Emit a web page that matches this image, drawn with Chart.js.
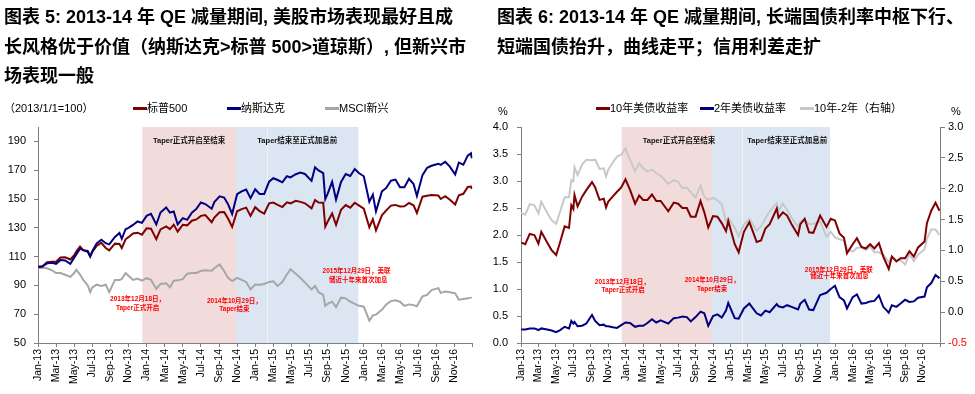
<!DOCTYPE html>
<html>
<head>
<meta charset="utf-8">
<script src="https://cdn.jsdelivr.net/npm/chart.js@4.4.0/dist/chart.umd.min.js"></script>
<style>
  body { margin: 0; background: #fff; width: 975px; height: 394px; overflow: hidden; position: relative;
         font-family: "Liberation Sans", Arial, "Noto Sans CJK SC", sans-serif; }
  canvas { position: absolute; top: 0; }
  .title { position: absolute; top: 3px; font-family: "Liberation Sans Narrow", "Liberation Sans", "Noto Sans CJK SC", sans-serif;
           font-weight: bold; font-size: 18px; line-height: 29.5px; white-space: nowrap; color: #000; z-index: 2; }
  .leg { position: absolute; top: 101px; font-size: 11px; line-height: 14px; white-space: nowrap; color: #000; z-index: 2; }
  .leg i { display: inline-block; width: 14px; height: 3px; vertical-align: middle; margin-top: -2px; }
</style>
</head>
<body>
<div class="title" style="left:4px">图表 5: 2013-14 年 QE 减量期间, 美股市场表现最好且成<br>长风格优于价值（纳斯达克&gt;标普 500&gt;道琼斯）, 但新兴市<br>场表现一般</div>
<div class="title" style="left:497px">图表 6: 2013-14 年 QE 减量期间, 长端国债利率中枢下行、<br>短端国债抬升，曲线走平；信用利差走扩</div>

<div class="leg" style="left:4px">（2013/1/1=100）</div>
<div class="leg" style="left:133px"><i style="background:#7f0000"></i>标普500</div>
<div class="leg" style="left:227px"><i style="background:#000080"></i>纳斯达克</div>
<div class="leg" style="left:325px"><i style="background:#a6a6a6"></i>MSCI新兴</div>

<div class="leg" style="left:498px;top:104px">%</div>
<div class="leg" style="left:596px"><i style="background:#7f0000"></i>10年美债收益率</div>
<div class="leg" style="left:700px"><i style="background:#000080"></i>2年美债收益率</div>
<div class="leg" style="left:800px"><i style="background:#c8c8c8"></i>10年-2年（右轴）</div>
<div class="leg" style="left:951px;top:104px">%</div>

<canvas id="left" width="487" height="394" style="left:0"></canvas>
<canvas id="right" width="488" height="394" style="left:487px"></canvas>

<script>
// ---- data: left chart (index, 2013/1/1 = 100) ----
const leftDates = [
  '2013-01-02','2013-01-16','2013-02-01','2013-02-16','2013-03-01','2013-03-16','2013-04-01','2013-04-18',
  '2013-05-01','2013-05-08','2013-05-21','2013-06-01','2013-06-16','2013-06-24','2013-07-01','2013-07-16',
  '2013-08-01','2013-08-16','2013-08-28','2013-09-16','2013-10-01','2013-10-09','2013-10-22','2013-11-01',
  '2013-11-16','2013-12-01','2013-12-16','2014-01-01','2014-01-16','2014-02-03','2014-02-16','2014-03-06',
  '2014-03-19','2014-04-01','2014-04-14','2014-05-01','2014-05-16','2014-06-01','2014-06-16','2014-07-01',
  '2014-07-16','2014-08-07','2014-08-16','2014-09-03','2014-09-18','2014-10-01','2014-10-15','2014-11-01',
  '2014-11-16','2014-12-01','2014-12-16','2015-01-01','2015-01-16','2015-02-01','2015-02-16','2015-03-01',
  '2015-03-16','2015-04-01','2015-04-16','2015-04-28','2015-05-16','2015-06-01','2015-06-16','2015-07-08',
  '2015-07-20','2015-08-01','2015-08-17','2015-08-24','2015-09-01','2015-09-16','2015-09-29','2015-10-16',
  '2015-11-01','2015-11-16','2015-12-01','2015-12-16','2016-01-01','2016-01-20','2016-02-01','2016-02-11',
  '2016-03-01','2016-03-16','2016-04-01','2016-04-16','2016-05-01','2016-05-16','2016-06-01','2016-06-16',
  '2016-06-27','2016-07-16','2016-08-01','2016-08-16','2016-09-08','2016-09-16','2016-10-01','2016-10-16',
  '2016-11-04','2016-11-16','2016-12-01','2016-12-16','2016-12-27','2016-12-30'
];
const spxValues = [
  102.5,103.2,106.1,106.5,106.4,109.4,109.5,108.0,
  110.9,113.5,117.0,114.4,114.0,110.3,113.2,117.5,
  119.6,116.0,114.3,119.0,118.8,116.0,122.0,123.5,
  126.0,126.6,125.2,129.6,129.4,122.1,128.9,131.0,
  129.1,132.2,127.3,132.1,131.7,134.9,135.8,138.3,
  138.9,133.9,137.1,140.8,141.0,136.4,130.6,141.5,
  143.0,144.0,138.3,144.3,141.6,139.9,147.0,147.5,
  145.9,144.4,147.7,147.0,148.8,148.0,147.0,143.5,
  149.3,147.5,147.4,130.9,134.2,139.9,132.1,142.5,
  145.8,144.0,147.4,145.4,143.3,130.4,136.0,128.2,
  138.7,142.1,145.4,145.9,144.8,144.9,147.2,145.6,
  140.3,151.6,152.2,152.7,152.5,150.0,152.0,149.6,
  146.2,152.6,153.6,158.3,158.6,157.0
];
const nasdaqValues = [
  103.1,103.2,105.3,105.7,105.0,107.6,107.3,104.9,
  109.3,111.5,115.5,114.5,113.4,110.0,113.7,119.2,
  121.7,119.3,118.5,123.7,126.4,122.3,129.0,129.9,
  132.0,134.4,133.4,138.3,139.7,132.3,140.6,144.1,
  140.6,141.3,132.3,136.7,135.5,140.5,143.1,147.6,
  146.5,143.2,147.9,151.9,151.0,146.4,139.6,153.3,
  155.3,156.6,150.6,156.8,153.5,153.5,162.0,164.4,
  163.2,161.6,165.8,165.0,167.2,168.3,167.4,162.6,
  172.0,169.8,168.0,149.9,153.5,161.9,149.6,161.8,
  167.3,166.0,170.8,167.9,165.8,148.1,153.0,141.3,
  155.3,157.7,162.7,163.5,158.1,158.1,164.0,160.4,
  152.1,166.6,171.7,173.1,174.5,173.7,175.9,172.7,
  167.1,175.3,173.9,180.1,181.7,178.3
];
const msciValues = [
  102.0,102.2,101.9,100.5,98.6,98.6,97.4,95.9,
  98.6,100.9,97.5,93.8,90.0,85.3,88.6,90.5,
  89.6,90.5,85.3,93.8,93.8,94.5,98.6,96.7,
  93.8,94.8,93.3,95.0,93.8,87.7,91.0,91.5,
  88.6,93.3,93.5,94.3,98.1,98.6,98.6,100.0,
  100.5,100.2,101.9,104.6,100.0,95.2,93.0,95.2,
  93.8,92.4,87.2,90.6,90.5,91.0,92.4,92.9,
  89.6,92.4,97.6,101.2,98.1,95.2,91.9,87.2,
  89.6,85.3,83.4,75.8,77.2,78.7,74.9,81.5,
  81.0,78.7,77.2,75.8,75.2,65.5,69.2,69.7,
  73.0,76.8,79.1,79.6,78.7,75.8,76.8,76.3,
  75.5,82.4,83.4,86.7,88.1,84.8,85.8,85.3,
  84.5,80.1,80.6,81.0,81.5,81.7
];

// ---- data: right chart (%, right axis for the spread) ----
const rightDates = [
  '2013-01-02','2013-01-16','2013-02-01','2013-02-16','2013-03-01','2013-03-11','2013-04-01','2013-04-16',
  '2013-05-02','2013-05-16','2013-06-01','2013-06-16','2013-06-24','2013-07-01','2013-07-05','2013-07-16',
  '2013-08-01','2013-08-16','2013-09-05','2013-09-16','2013-10-01','2013-10-16','2013-10-24','2013-11-01',
  '2013-11-16','2013-12-01','2013-12-16','2013-12-31','2014-01-16','2014-02-03','2014-02-16','2014-03-01',
  '2014-03-16','2014-04-01','2014-04-16','2014-05-01','2014-05-28','2014-06-16','2014-07-01','2014-07-16',
  '2014-08-01','2014-08-15','2014-09-01','2014-09-18','2014-10-01','2014-10-15','2014-11-01','2014-11-16',
  '2014-12-01','2014-12-16','2014-12-24','2015-01-16','2015-01-30','2015-02-16','2015-03-06','2015-03-16',
  '2015-04-01','2015-04-16','2015-05-01','2015-05-16','2015-06-10','2015-06-16','2015-07-01','2015-07-16',
  '2015-08-01','2015-08-24','2015-09-01','2015-09-16','2015-10-01','2015-10-16','2015-11-09','2015-12-01',
  '2015-12-16','2015-12-31','2016-01-16','2016-02-01','2016-02-11','2016-03-01','2016-03-16','2016-04-01',
  '2016-04-16','2016-05-01','2016-05-16','2016-06-01','2016-06-16','2016-07-05','2016-07-16','2016-08-01',
  '2016-08-16','2016-09-01','2016-09-16','2016-10-01','2016-10-16','2016-11-08','2016-11-16','2016-12-01',
  '2016-12-16','2016-12-30'
];
const ust10Values = [
  1.86,1.83,2.02,2.00,1.84,2.06,1.86,1.72,
  1.63,1.87,2.16,2.13,2.55,2.48,2.74,2.53,
  2.71,2.83,2.98,2.88,2.65,2.67,2.51,2.62,
  2.71,2.80,2.88,3.03,2.84,2.58,2.73,2.65,
  2.65,2.75,2.63,2.63,2.44,2.60,2.58,2.50,
  2.50,2.34,2.34,2.63,2.42,2.14,2.35,2.34,
  2.22,2.07,2.26,1.83,1.68,2.06,2.24,2.10,
  1.87,1.90,2.12,2.20,2.49,2.32,2.42,2.36,
  2.20,2.00,2.20,2.30,2.05,2.04,2.36,2.15,
  2.30,2.27,2.03,1.95,1.66,1.83,1.94,1.78,
  1.75,1.83,1.75,1.85,1.60,1.37,1.60,1.51,
  1.57,1.57,1.70,1.60,1.77,1.88,2.22,2.45,
  2.60,2.45
];
const ust2Values = [
  0.25,0.25,0.27,0.27,0.24,0.27,0.25,0.23,
  0.20,0.24,0.30,0.27,0.41,0.36,0.39,0.31,
  0.32,0.36,0.52,0.41,0.33,0.34,0.31,0.31,
  0.29,0.28,0.33,0.38,0.37,0.30,0.32,0.32,
  0.37,0.44,0.38,0.42,0.36,0.46,0.47,0.49,
  0.48,0.40,0.48,0.58,0.55,0.32,0.50,0.53,
  0.47,0.60,0.74,0.46,0.45,0.64,0.73,0.66,
  0.55,0.51,0.60,0.57,0.72,0.68,0.66,0.70,
  0.67,0.62,0.73,0.80,0.62,0.61,0.89,0.93,
  1.00,1.06,0.85,0.79,0.64,0.85,0.90,0.73,
  0.74,0.77,0.78,0.88,0.67,0.56,0.70,0.67,
  0.73,0.80,0.76,0.77,0.84,0.86,1.03,1.11,
  1.26,1.20
];
const spreadValues = [
  1.61,1.58,1.75,1.73,1.60,1.79,1.61,1.49,
  1.43,1.63,1.86,1.86,2.14,2.12,2.35,2.22,
  2.39,2.47,2.46,2.47,2.32,2.33,2.20,2.31,
  2.42,2.52,2.55,2.65,2.47,2.28,2.41,2.33,
  2.28,2.31,2.25,2.21,2.08,2.14,2.11,2.01,
  2.02,1.94,1.86,2.05,1.87,1.82,1.85,1.81,
  1.75,1.47,1.52,1.37,1.23,1.42,1.51,1.44,
  1.32,1.39,1.52,1.63,1.77,1.64,1.76,1.66,
  1.53,1.38,1.47,1.50,1.43,1.43,1.47,1.22,
  1.30,1.21,1.18,1.16,1.02,0.98,1.04,1.05,
  1.01,1.06,0.97,0.97,0.93,0.81,0.90,0.84,
  0.84,0.77,0.94,0.83,0.93,1.02,1.19,1.34,
  1.34,1.25
];

// ---- tick labels ----
const monthTickLabels = ['Jan-13','Mar-13','May-13','Jul-13','Sep-13','Nov-13',
  'Jan-14','Mar-14','May-14','Jul-14','Sep-14','Nov-14',
  'Jan-15','Mar-15','May-15','Jul-15','Sep-15','Nov-15',
  'Jan-16','Mar-16','May-16','Jul-16','Sep-16','Nov-16'];
const indexTicks = [50, 70, 90, 110, 130, 150, 170, 190];
const yieldTicks = [0, 0.5, 1.0, 1.5, 2.0, 2.5, 3.0, 3.5, 4.0];
const spreadTicks = [-0.5, 0, 0.5, 1.0, 1.5, 2.0, 2.5, 3.0];

// Taper periods (months since Jan 2013)
const taperStart = 11.53, taperEnd = 21.88, hikeDate = 35.4, splitLine = 25.27;

// date string -> months since 2013-01-01
function toMonth(d) {
    const [y, m, day] = d.split('-').map(Number);
    const dim = new Date(y, m, 0).getDate();
    return (y - 2013) * 12 + (m - 1) + (day - 1) / dim;
}

function points(dates, values) {
    return dates.map((d, i) => ({ x: toMonth(d), y: values[i] }));
}

const FONT = '"Liberation Sans", Arial, sans-serif';
const CJK = '"Liberation Sans", "Noto Sans CJK SC", sans-serif';

// shaded taper periods plus the text on them
function periodsPlugin(labels) {
    return {
        id: 'periods',
        beforeDatasetsDraw(chart) {
            const { ctx, chartArea: a, scales } = chart;
            const x = scales.x;
            const px = v => x.getPixelForValue(v);
            ctx.save();
            ctx.fillStyle = '#f2dcdb';
            ctx.fillRect(px(taperStart), a.top, px(taperEnd) - px(taperStart), a.bottom - a.top);
            ctx.fillStyle = '#dce6f2';
            ctx.fillRect(px(taperEnd), a.top, px(hikeDate) - px(taperEnd), a.bottom - a.top);
            ctx.fillStyle = '#eef2f9';
            ctx.fillRect(Math.round(px(splitLine)), a.top, 1, a.bottom - a.top);

            ctx.textAlign = 'center';
            ctx.textBaseline = 'middle';
            ctx.fillStyle = '#111';
            ctx.font = 'bold 7.5px ' + CJK;
            ctx.fillText('Taper正式开启至结束', px(labels.pinkAt), a.top + 14);
            ctx.fillText('Taper结束至正式加息前', px(labels.blueAt), a.top + 14);
            ctx.restore();
        },
        afterDatasetsDraw(chart) {
            const { ctx, scales } = chart;
            const yScale = scales[labels.axis];
            ctx.save();
            ctx.textAlign = 'center';
            ctx.textBaseline = 'middle';
            ctx.fillStyle = '#ff0000';
            ctx.font = 'bold 6.5px ' + CJK;
            labels.notes.forEach(n => {
                ctx.fillText(n.text, scales.x.getPixelForValue(n.x), yScale.getPixelForValue(n.y));
            });
            ctx.restore();
        }
    };
}

function xAxis() {
    return {
        type: 'linear', min: 0, max: 48,
        afterBuildTicks(s) { s.ticks = monthTickLabels.map((_, i) => ({ value: i * 2 })).concat([{ value: 48 }]); },
        afterFit(s) { s.height = 51; },
        border: { color: '#808080' },
        grid: { drawOnChartArea: false, drawTicks: true, tickLength: 4, color: '#808080' },
        ticks: {
            autoSkip: false, maxRotation: 90, minRotation: 90, padding: 2, color: '#000',
            font: { family: FONT, size: 10.5 },
            callback: v => monthTickLabels[v / 2] || ''
        }
    };
}

function line(label, data, color, width, order, yAxisID) {
    return { label, data, borderColor: color, borderWidth: width, pointRadius: 0,
             tension: 0, fill: false, order, yAxisID: yAxisID || 'y' };
}

new Chart(document.getElementById('left'), {
    type: 'line',
    data: {
        datasets: [
            line('纳斯达克', points(leftDates, nasdaqValues), '#000080', 2, 1),
            line('标普500', points(leftDates, spxValues), '#7f0000', 2, 2),
            line('MSCI新兴', points(leftDates, msciValues), '#a6a6a6', 2, 3)
        ]
    },
    options: {
        responsive: false, animation: false,
        layout: { padding: { top: 127, right: 14, left: 0, bottom: 0 } },
        plugins: { legend: { display: false }, tooltip: { enabled: false } },
        scales: {
            x: xAxis(),
            y: {
                min: 50, max: 200,
                afterBuildTicks(s) { s.ticks = indexTicks.map(v => ({ value: v })); },
                afterFit(s) { s.width = 38; },
                border: { color: '#808080' },
                grid: { drawOnChartArea: false, tickLength: 4, color: '#808080' },
                ticks: { color: '#000', padding: 8, font: { family: FONT, size: 11 } }
            }
        }
    },
    plugins: [periodsPlugin({
        axis: 'y', pinkAt: 16.7, blueAt: 28.65,
        notes: [
            { text: '2013年12月18日，', x: 11.0, y: 80.5 },
            { text: 'Taper正式开启', x: 11.0, y: 74.5 },
            { text: '2014年10月29日，', x: 21.7, y: 79.3 },
            { text: 'Taper结束', x: 21.7, y: 73.5 },
            { text: '2015年12月29日，美联', x: 35.2, y: 99.7 },
            { text: '储近十年来首次加息', x: 35.4, y: 93.9 }
        ]
    })]
});

new Chart(document.getElementById('right'), {
    type: 'line',
    data: {
        datasets: [
            line('2年美债收益率', points(rightDates, ust2Values), '#000080', 2, 1),
            line('10年美债收益率', points(rightDates, ust10Values), '#7f0000', 2, 2),
            line('10年-2年（右轴）', points(rightDates, spreadValues), '#c8c8c8', 2, 3, 'y2')
        ]
    },
    options: {
        responsive: false, animation: false,
        layout: { padding: { top: 127, right: 0, left: 0, bottom: 0 } },
        plugins: { legend: { display: false }, tooltip: { enabled: false } },
        scales: {
            x: xAxis(),
            y: {
                position: 'left', min: 0, max: 4,
                afterBuildTicks(s) { s.ticks = yieldTicks.map(v => ({ value: v })); },
                afterFit(s) { s.width = 34; },
                border: { color: '#808080' },
                grid: { drawOnChartArea: false, tickLength: 4, color: '#808080' },
                ticks: { color: '#000', padding: 9, font: { family: FONT, size: 11 }, callback: v => v.toFixed(1) }
            },
            y2: {
                position: 'right', min: -0.5, max: 3,
                afterBuildTicks(s) { s.ticks = spreadTicks.map(v => ({ value: v })); },
                afterFit(s) { s.width = 35; },
                border: { color: '#808080' },
                grid: { drawOnChartArea: false, tickLength: 5, color: '#808080' },
                ticks: {
                    padding: 3, font: { family: FONT, size: 11 },
                    color: c => (c.tick && c.tick.value < 0 ? '#ff0000' : '#000'),
                    callback: v => v.toFixed(1)
                }
            }
        }
    },
    plugins: [periodsPlugin({
        axis: 'y', pinkAt: 18.1, blueAt: 30.5,
        notes: [
            { text: '2013年12月18日，', x: 11.6, y: 1.135 },
            { text: 'Taper正式开启', x: 11.7, y: 0.98 },
            { text: '2014年10月29日，', x: 21.9, y: 1.154 },
            { text: 'Taper结束', x: 21.9, y: 1.0 },
            { text: '2015年12月29日，美联', x: 36.4, y: 1.352 },
            { text: '储近十年来首次加息', x: 36.5, y: 1.228 }
        ]
    })]
});
</script>
</body>
</html>
